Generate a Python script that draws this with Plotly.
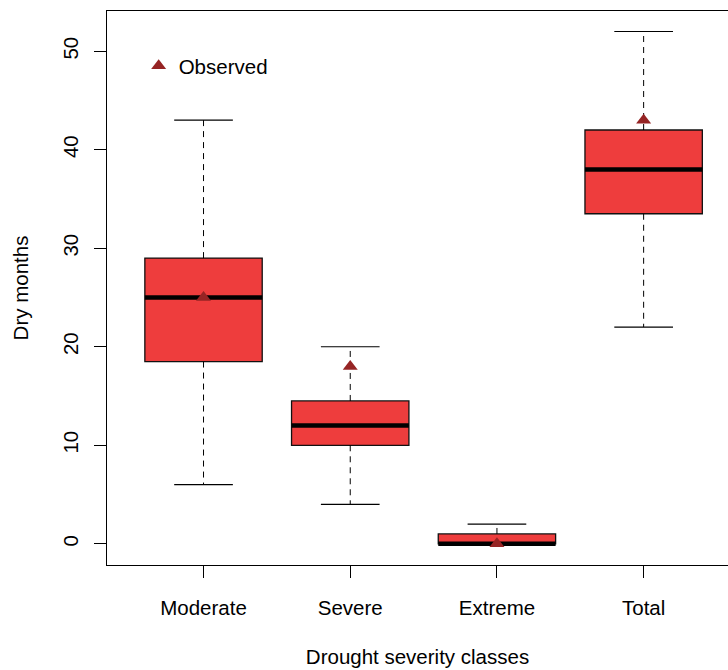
import plotly.graph_objects as go

categories = ["Moderate", "Severe", "Extreme", "Total"]
lower_whisker = [6, 4, 0, 22]
q1 = [18.5, 10, 0, 33.5]
median = [25, 12, 0, 38]
q3 = [29, 14.5, 1, 42]
upper_whisker = [43, 20, 2, 52]
observed = [25, 18, 0, 43]
y_ticks = [0, 10, 20, 30, 40, 50]

positions = list(range(1, len(categories) + 1))
BOX_FILL = "#EE3D3D"
OBS_COLOR = "#962424"
FONT = "Liberation Sans, Arial, sans-serif"
FS = 20.5
BW = 0.8
CAP = 0.2

fig = go.Figure()

for i, pos in enumerate(positions):
    # dashed whiskers
    fig.add_trace(go.Scatter(
        x=[pos, pos, None, pos, pos],
        y=[q3[i], upper_whisker[i], None, q1[i], lower_whisker[i]],
        mode="lines", line=dict(color="black", width=1, dash="6px,5px"),
        showlegend=False, hoverinfo="skip"))
    # caps
    fig.add_trace(go.Scatter(
        x=[pos - CAP, pos + CAP, None, pos - CAP, pos + CAP],
        y=[upper_whisker[i], upper_whisker[i], None, lower_whisker[i], lower_whisker[i]],
        mode="lines", line=dict(color="black", width=1.2),
        showlegend=False, hoverinfo="skip"))
    # box body
    fig.add_trace(go.Box(
        x=[pos], q1=[q1[i]], median=[median[i]], q3=[q3[i]],
        lowerfence=[q1[i]], upperfence=[q3[i]],
        width=BW, whiskerwidth=0, fillcolor=BOX_FILL,
        line=dict(color="#111111", width=1.3),
        showlegend=False, hoverinfo="skip", boxpoints=False))
    # thick median
    fig.add_trace(go.Scatter(
        x=[pos - BW / 2, pos + BW / 2], y=[median[i], median[i]],
        mode="lines", line=dict(color="black", width=4.5),
        showlegend=False, hoverinfo="skip"))

fig.add_trace(go.Scatter(
    x=positions, y=observed, mode="markers", name="Observed",
    marker=dict(symbol="triangle-up", size=13, color=OBS_COLOR),
    showlegend=True))

fig.update_layout(
    width=728, height=670,
    margin=dict(l=107, r=0, t=11, b=105),
    paper_bgcolor="white", plot_bgcolor="white",
    font=dict(family=FONT, size=FS, color="black"),
    legend=dict(x=0.051, y=0.937, xanchor="left", yanchor="top",
                bgcolor="rgba(0,0,0,0)", borderwidth=0,
                font=dict(family=FONT, size=FS, color="black")),
    xaxis=dict(
        range=[0.342, 4.575], tickmode="array", tickvals=positions, ticktext=categories,
        showgrid=False, zeroline=False, showline=True, linecolor="black", linewidth=1,
        mirror=True, ticks="outside", ticklen=12, tickcolor="black", tickwidth=1,
        ticklabelstandoff=12,
        title=dict(text="Drought severity classes", standoff=32,
                   font=dict(family=FONT, size=FS))),
    yaxis=dict(
        range=[-2.15, 54.08], tickmode="array", tickvals=y_ticks,
        showgrid=False, zeroline=False, showline=True, linecolor="black", linewidth=1,
        ticks="outside", ticklen=12, tickcolor="black", tickwidth=1,
        tickangle=-90, ticklabelstandoff=8,
        title=dict(text="Dry months", standoff=24,
                   font=dict(family=FONT, size=FS))),
)

fig.write_html("out.html")
